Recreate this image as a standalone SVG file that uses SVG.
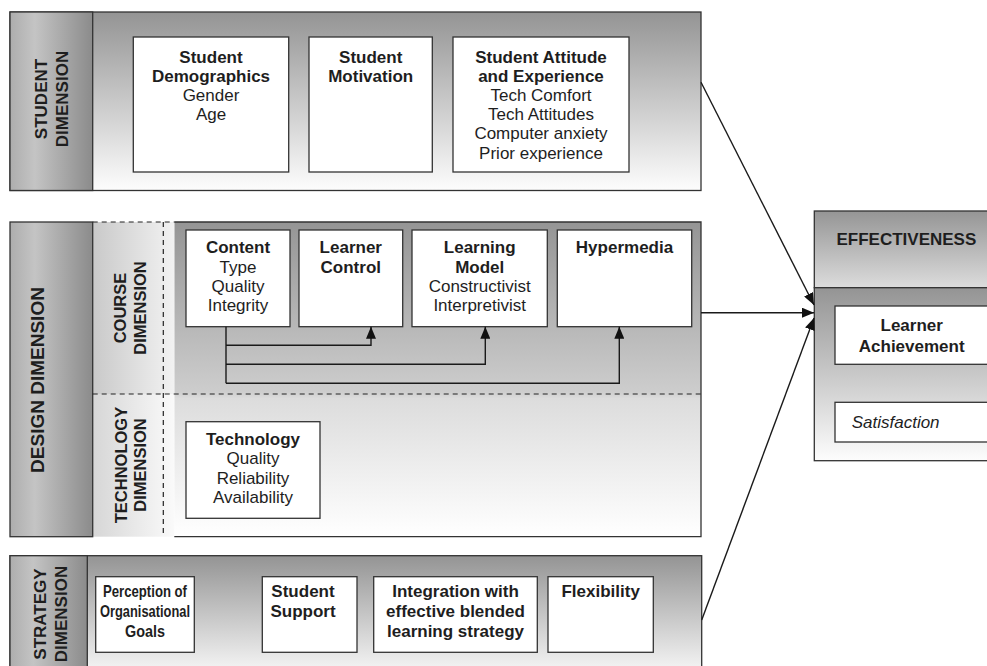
<svg xmlns="http://www.w3.org/2000/svg" width="987" height="666" viewBox="0 0 987 666">
  <defs>
    <linearGradient id="gPanel" x1="0" y1="0" x2="0" y2="1">
      <stop offset="0" stop-color="#949494"/>
      <stop offset="1" stop-color="#fdfdfd"/>
    </linearGradient>
    <linearGradient id="gDesign" x1="0" y1="0" x2="0" y2="1">
      <stop offset="0" stop-color="#959595"/>
      <stop offset="0.54" stop-color="#cdcdcd"/>
      <stop offset="0.56" stop-color="#dcdcdc"/>
      <stop offset="1" stop-color="#ffffff"/>
    </linearGradient>
    <linearGradient id="gHead" x1="0" y1="0" x2="0" y2="1">
      <stop offset="0" stop-color="#959595"/>
      <stop offset="1" stop-color="#dcdcdc"/>
    </linearGradient>
    <linearGradient id="gLabel" x1="0" y1="0" x2="1" y2="0">
      <stop offset="0" stop-color="#adadad"/>
      <stop offset="0.3" stop-color="#c4c4c4"/>
      <stop offset="1" stop-color="#8b8b8b"/>
    </linearGradient>
    <linearGradient id="gSubC" x1="0" y1="0" x2="1" y2="0">
      <stop offset="0" stop-color="#c9c9c9"/>
      <stop offset="1" stop-color="#f2f2f2"/>
    </linearGradient>
    <linearGradient id="gSubT" x1="0" y1="0" x2="1" y2="0">
      <stop offset="0" stop-color="#d6d6d6"/>
      <stop offset="1" stop-color="#fafafa"/>
    </linearGradient>
    <marker id="arr" viewBox="0 0 12 10" refX="12" refY="5" markerWidth="12" markerHeight="10" markerUnits="userSpaceOnUse" orient="auto">
      <path d="M0,0 L12,5 L0,10 z" fill="#111"/>
    </marker>
  </defs>
  <style>
    .frame { stroke: #333; stroke-width: 1.3; }
    .box { fill: #fff; stroke: #333; stroke-width: 1.3; }
    .dash { fill: none; stroke: #222; stroke-width: 1.2; stroke-dasharray: 5 4; }
    .t { font-family: "Liberation Sans", Arial, sans-serif; font-size: 17px; fill: #1e1e1e; text-anchor: middle; }
    .b { font-weight: bold; }
    .lab { font-family: "Liberation Sans", Arial, sans-serif; font-weight: bold; fill: #1e1e1e; text-anchor: middle; }
    .conn { fill: none; stroke: #1a1a1a; stroke-width: 1.4; }
  </style>

  <!-- Student dimension panel -->
  <g id="student-dimension">
    <rect x="10" y="12" width="691" height="178.5" fill="url(#gPanel)" class="frame"/>
    <rect x="10" y="12" width="82.7" height="178.5" fill="url(#gLabel)" class="frame"/>
    <text class="lab" font-size="17" transform="rotate(-90 46.5 99)" x="46.5" y="99">STUDENT</text>
    <text class="lab" font-size="17" transform="rotate(-90 67.5 99)" x="67.5" y="99">DIMENSION</text>
  </g>
  <g id="student-demographics">
    <rect x="133.3" y="37" width="155.4" height="135" class="box"/>
    <text class="t b" x="211" y="62.5">Student</text>
    <text class="t b" x="211" y="81.7">Demographics</text>
    <text class="t" x="211" y="101">Gender</text>
    <text class="t" x="211" y="120.2">Age</text>
  </g>
  <g id="student-motivation">
    <rect x="309" y="37" width="123.3" height="135" class="box"/>
    <text class="t b" x="370.7" y="62.5">Student</text>
    <text class="t b" x="370.7" y="81.7">Motivation</text>
  </g>
  <g id="student-attitude">
    <rect x="453" y="37" width="176" height="135" class="box"/>
    <text class="t b" x="541" y="62.5">Student Attitude</text>
    <text class="t b" x="541" y="81.7">and Experience</text>
    <text class="t" x="541" y="101">Tech Comfort</text>
    <text class="t" x="541" y="120.2">Tech Attitudes</text>
    <text class="t" x="541" y="139.4">Computer anxiety</text>
    <text class="t" x="541" y="158.6">Prior experience</text>
  </g>

  <!-- Design dimension panel -->
  <g id="design-dimension">
    <rect x="174.3" y="222" width="526.7" height="314.7" fill="url(#gDesign)"/>
    <rect x="92.7" y="222" width="81.6" height="172" fill="url(#gSubC)"/>
    <rect x="92.7" y="394" width="81.6" height="142.7" fill="url(#gSubT)"/>
    <path d="M174.3,222 H701 V536.7 H174.3" fill="none" class="frame"/>
    <rect x="10" y="222" width="82.7" height="314.7" fill="url(#gLabel)" class="frame"/>
    <path d="M92.7,222 H174.3" class="dash"/>
    <path d="M163.3,222 V536.7" class="dash"/>
    <path d="M92.7,394 H701" class="dash"/>
    <text class="lab" font-size="19" transform="rotate(-90 44 380)" x="44" y="380">DESIGN DIMENSION</text>
  </g>
  <g id="course-dimension">
    <text class="lab" font-size="16.5" transform="rotate(-90 126 308)" x="126" y="308">COURSE</text>
    <text class="lab" font-size="16.5" transform="rotate(-90 145.5 308)" x="145.5" y="308">DIMENSION</text>
  </g>
  <g id="technology-dimension">
    <text class="lab" font-size="16.5" transform="rotate(-90 126.5 465)" x="126.5" y="465">TECHNOLOGY</text>
    <text class="lab" font-size="16.5" transform="rotate(-90 145.5 465)" x="145.5" y="465">DIMENSION</text>
  </g>
  <g id="content">
    <rect x="186" y="230" width="104" height="96.7" class="box"/>
    <text class="t b" x="238" y="253.3">Content</text>
    <text class="t" x="238" y="272.5">Type</text>
    <text class="t" x="238" y="291.7">Quality</text>
    <text class="t" x="238" y="311">Integrity</text>
  </g>
  <g id="learner-control">
    <rect x="299" y="230" width="103.7" height="96.7" class="box"/>
    <text class="t b" x="350.8" y="253.3">Learner</text>
    <text class="t b" x="350.8" y="272.5">Control</text>
  </g>
  <g id="learning-model">
    <rect x="412" y="230" width="135.3" height="96.7" class="box"/>
    <text class="t b" x="479.7" y="253.3">Learning</text>
    <text class="t b" x="479.7" y="272.5">Model</text>
    <text class="t" x="479.7" y="291.7">Constructivist</text>
    <text class="t" x="479.7" y="311">Interpretivist</text>
  </g>
  <g id="hypermedia">
    <rect x="557.3" y="230" width="134.4" height="96.7" class="box"/>
    <text class="t b" x="624.5" y="253.3">Hypermedia</text>
  </g>
  <g id="technology">
    <rect x="186" y="421.7" width="134" height="96.6" class="box"/>
    <text class="t b" x="253" y="445">Technology</text>
    <text class="t" x="253" y="464.3">Quality</text>
    <text class="t" x="253" y="483.7">Reliability</text>
    <text class="t" x="253" y="503">Availability</text>
  </g>

  <!-- Strategy dimension panel -->
  <g id="strategy-dimension">
    <rect x="10" y="555.7" width="691.7" height="125" fill="url(#gPanel)" class="frame"/>
    <rect x="10" y="555.7" width="77.3" height="125" fill="url(#gLabel)" class="frame"/>
    <text class="lab" font-size="17" transform="rotate(-90 45.5 614)" x="45.5" y="614">STRATEGY</text>
    <text class="lab" font-size="17" transform="rotate(-90 67 614)" x="67" y="614">DIMENSION</text>
  </g>
  <g id="organisational-goals">
    <rect x="95.7" y="576.7" width="98.6" height="75.6" class="box"/>
    <text class="t b" x="145" y="596.7" font-size="16.5" textLength="84" lengthAdjust="spacingAndGlyphs">Perception of</text>
    <text class="t b" x="145" y="616.7" font-size="16.5" textLength="90" lengthAdjust="spacingAndGlyphs">Organisational</text>
    <text class="t b" x="145" y="636.7" font-size="16.5" textLength="40" lengthAdjust="spacingAndGlyphs">Goals</text>
  </g>
  <g id="student-support">
    <rect x="262.3" y="576.7" width="94.7" height="75.6" class="box"/>
    <text class="t b" x="303" y="596.7">Student</text>
    <text class="t b" x="303" y="616.7">Support</text>
  </g>
  <g id="blended-strategy">
    <rect x="373.7" y="576.7" width="163.6" height="75.6" class="box"/>
    <text class="t b" x="455.5" y="596.7">Integration with</text>
    <text class="t b" x="455.5" y="616.7">effective blended</text>
    <text class="t b" x="455.5" y="636.7">learning strategy</text>
  </g>
  <g id="flexibility">
    <rect x="548" y="576.7" width="105.3" height="75.6" class="box"/>
    <text class="t b" x="600.7" y="596.7">Flexibility</text>
  </g>

  <!-- Effectiveness -->
  <g id="effectiveness">
    <rect x="814.3" y="211" width="190" height="76.7" fill="url(#gHead)" class="frame"/>
    <rect x="814.3" y="287.7" width="190" height="173" fill="url(#gPanel)" class="frame"/>
    <text class="lab" font-size="17" x="836.5" y="245" style="text-anchor:start">EFFECTIVENESS</text>
  </g>
  <g id="learner-achievement">
    <rect x="835" y="306" width="170" height="58.3" class="box"/>
    <text class="t b" x="911.7" y="331">Learner</text>
    <text class="t b" x="911.7" y="351.7">Achievement</text>
  </g>
  <g id="satisfaction">
    <rect x="835" y="402.3" width="170" height="39.7" class="box"/>
    <text class="t" x="851.7" y="428.3" style="text-anchor:start;font-style:italic">Satisfaction</text>
  </g>

  <!-- Connectors -->
  <g id="connectors">
    <path d="M226,326.7 V383.3" class="conn"/>
    <path d="M226,345.3 H371 V326.7" class="conn" marker-end="url(#arr)"/>
    <path d="M226,364.3 H485.3 V326.7" class="conn" marker-end="url(#arr)"/>
    <path d="M226,383.3 H619.3 V326.7" class="conn" marker-end="url(#arr)"/>
    <path d="M701,82.3 L814,305" class="conn" marker-end="url(#arr)"/>
    <path d="M701,312.7 H814" class="conn" marker-end="url(#arr)"/>
    <path d="M701.7,620 L814,318" class="conn" marker-end="url(#arr)"/>
  </g>
</svg>
